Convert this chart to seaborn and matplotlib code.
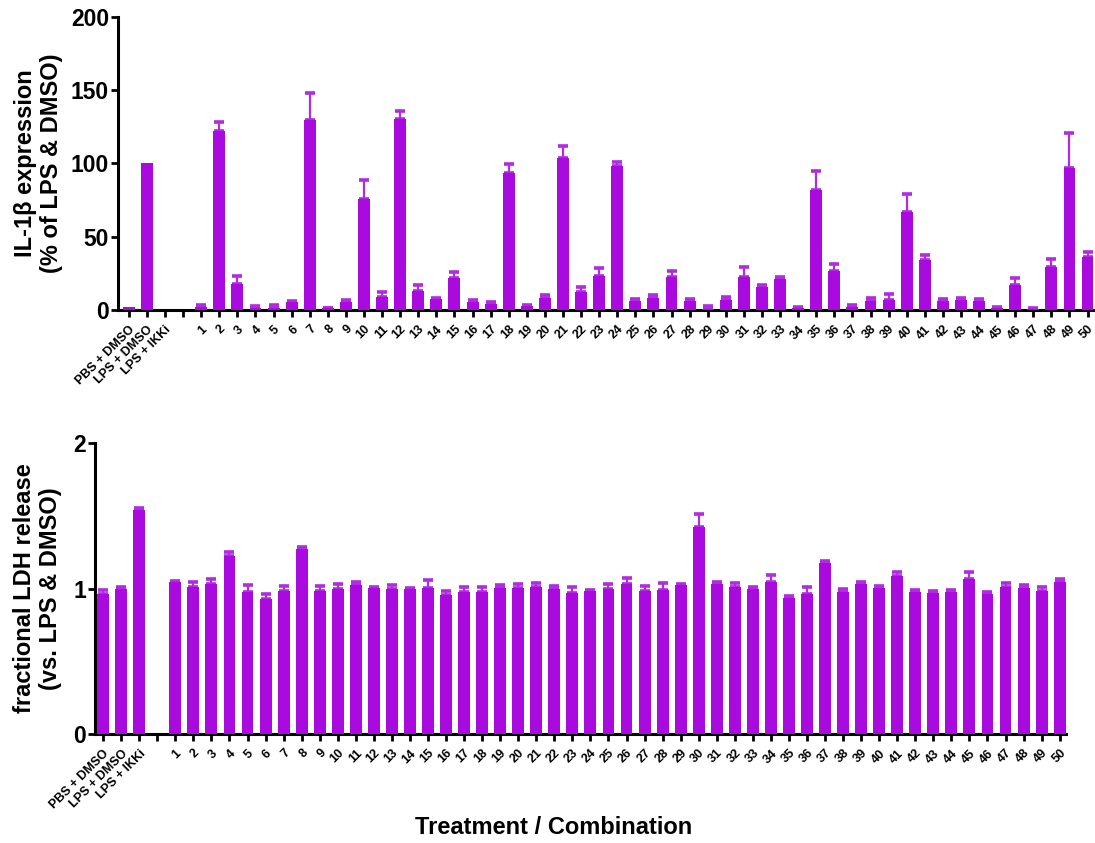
import numpy as np
import pandas as pd
import matplotlib
matplotlib.use("Agg")
import matplotlib.pyplot as plt
import seaborn as sns

# ---------------- data ----------------
controls = ["PBS + DMSO", "LPS + DMSO", "LPS + IKKi"]
blank = " "
combos = [str(i) for i in range(1, 51)]
categories = controls + [blank] + combos

il1b_ctrl = [2.0, 100.0, 0.0]
il1b_ctrl_err = [0.0, 0.0, 0.0]
il1b_mean = [2.3, 122, 18, 1.6, 1.6, 5.3, 129.6, 1.1, 5.7, 76,
             9.2, 130.3, 13.3, 7.8, 21.6, 5.7, 3.9, 93.8, 2.5, 8.5,
             104, 12.6, 22.9, 98.6, 6.4, 8.5, 22.2, 6.4, 0.9, 7.1,
             22.2, 16, 20.9, 1.1, 82.1, 26.4, 2.3, 6.4, 7.1, 67,
             34, 6.4, 7.1, 6.4, 1.6, 17.4, 0.9, 29.1, 96.6, 36.5]
il1b_err = [1.4, 6, 5, 1.4, 1.6, 1.1, 18.4, 0.3, 1.3, 12.8,
            2.8, 5.2, 3.9, 0.7, 4.4, 1.4, 1.4, 5.7, 0.9, 1.4,
            8, 3.4, 6, 2.4, 1.4, 1.8, 4.6, 1.4, 1.9, 1.6,
            7.4, 1, 1.8, 1, 12.6, 5.3, 1.4, 2.1, 3.9, 12.4,
            3.4, 0.9, 1.2, 1.4, 0.3, 4.6, 0.3, 5.5, 24.4, 2.8]

ldh_ctrl = [0.962, 0.994, 1.538]
ldh_ctrl_err = [0.030, 0.016, 0.016]
ldh_mean = [1.045, 1.01, 1.029, 1.22, 0.974, 0.926, 0.98, 1.271, 0.98, 0.994,
            1.022, 1.003, 0.994, 0.994, 1.001, 0.953, 0.974, 0.974, 1.001, 1.001,
            1.008, 0.994, 0.967, 0.98, 0.994, 1.029, 0.98, 0.987, 1.022, 1.426,
            1.029, 1.008, 0.994, 1.042, 0.933, 0.96, 1.173, 0.974, 1.029, 1.001,
            1.083, 0.974, 0.967, 0.974, 1.063, 0.96, 1.008, 1.001, 0.98, 1.042]
ldh_err = [0.009, 0.032, 0.038, 0.030, 0.052, 0.039, 0.040, 0.011, 0.037, 0.035,
           0.020, 0.007, 0.028, 0.007, 0.055, 0.030, 0.039, 0.034, 0.021, 0.030,
           0.027, 0.021, 0.041, 0.012, 0.039, 0.043, 0.037, 0.053, 0.009, 0.089,
           0.013, 0.027, 0.016, 0.048, 0.018, 0.048, 0.013, 0.023, 0.013, 0.016,
           0.028, 0.013, 0.016, 0.013, 0.050, 0.018, 0.027, 0.021, 0.028, 0.021]

il1b_yticks = [0, 50, 100, 150, 200]
ldh_yticks = [0, 1, 2]

BAR = "#A90BDE"
ERR = "#B22AE2"

# ---------------- style ----------------
sns.set_style("ticks")
plt.rcParams["font.family"] = ["Liberation Sans", "DejaVu Sans"]
plt.rcParams["font.weight"] = "bold"
for k in ("text.color", "axes.labelcolor", "xtick.color", "ytick.color",
          "axes.edgecolor"):
    plt.rcParams[k] = "black"

fig = plt.figure(figsize=(10.95, 8.43), dpi=100)
W, H = 1095, 843
ax1 = fig.add_axes([118 / W, 1 - 310 / H, (1093 - 118) / W, (310 - 17) / H])
ax2 = fig.add_axes([95 / W, 1 - 734 / H, (1066 - 95) / W, (734 - 443) / H])


def panel(ax, ctrl, ctrl_err, mean, err, yticks, ylabel, xlim, labx):
    labels = controls + combos
    vals = ctrl + mean
    errs = ctrl_err + err
    df = pd.DataFrame({"cond": labels, "val": vals, "err": errs})
    sns.barplot(data=df, x="cond", y="val", order=categories, color=BAR,
                saturation=1, width=0.66, errorbar=None, ax=ax, zorder=3,
                edgecolor="none")
    sub = df[df["err"] > 0]
    pos = [categories.index(l) for l in sub["cond"]]
    e = sub["err"].to_numpy()
    ax.errorbar(pos, sub["val"].to_numpy(), yerr=[np.zeros_like(e), e],
                fmt="none", ecolor=ERR, elinewidth=1.6, capsize=3.4,
                capthick=2.6, zorder=2)
    ax.set_xlim(*xlim)
    ax.set_ylim(yticks[0], yticks[-1])
    ax.set_yticks(yticks)
    ax.set_yticklabels([str(t) for t in yticks], fontsize=16.5, fontweight="bold")
    ax.set_xticks(range(len(categories)))
    ax.set_xticklabels(categories, rotation=45, ha="right",
                       rotation_mode="anchor", fontsize=9, fontweight="bold")
    ax.set_xlabel("")
    ax.set_ylabel(ylabel, fontsize=17, fontweight="bold", linespacing=1.15,
                  multialignment="center", va="bottom")
    ax.yaxis.set_label_coords(labx, 0.5)
    sns.despine(ax=ax)
    for s in ("left", "bottom"):
        ax.spines[s].set_linewidth(2.2)
        ax.spines[s].set_color("black")
    ax.tick_params(axis="both", width=2.0, length=5, color="black")
    ax.tick_params(axis="y", pad=1.5)
    ax.tick_params(axis="x", pad=4.5)
    ax.set_facecolor("white")


panel(ax1, il1b_ctrl, il1b_ctrl_err, il1b_mean, il1b_err, il1b_yticks,
      "IL-1\u03b2 expression\n(% of LPS & DMSO)", (-0.6, 53.3), (63 - 118) / 975)
panel(ax2, ldh_ctrl, ldh_ctrl_err, ldh_mean, ldh_err, ldh_yticks,
      "fractional LDH release\n(vs. LPS & DMSO)", (-0.45, 53.35), (62 - 95) / 971)

ax2.set_xlabel("Treatment / Combination", fontsize=17, fontweight="bold")
ax2.xaxis.set_label_coords((554 - 95) / 971, (734 - 816) / 291)
ax2.xaxis.label.set_va("top")

fig.savefig("out.png", dpi=100, facecolor="white")
